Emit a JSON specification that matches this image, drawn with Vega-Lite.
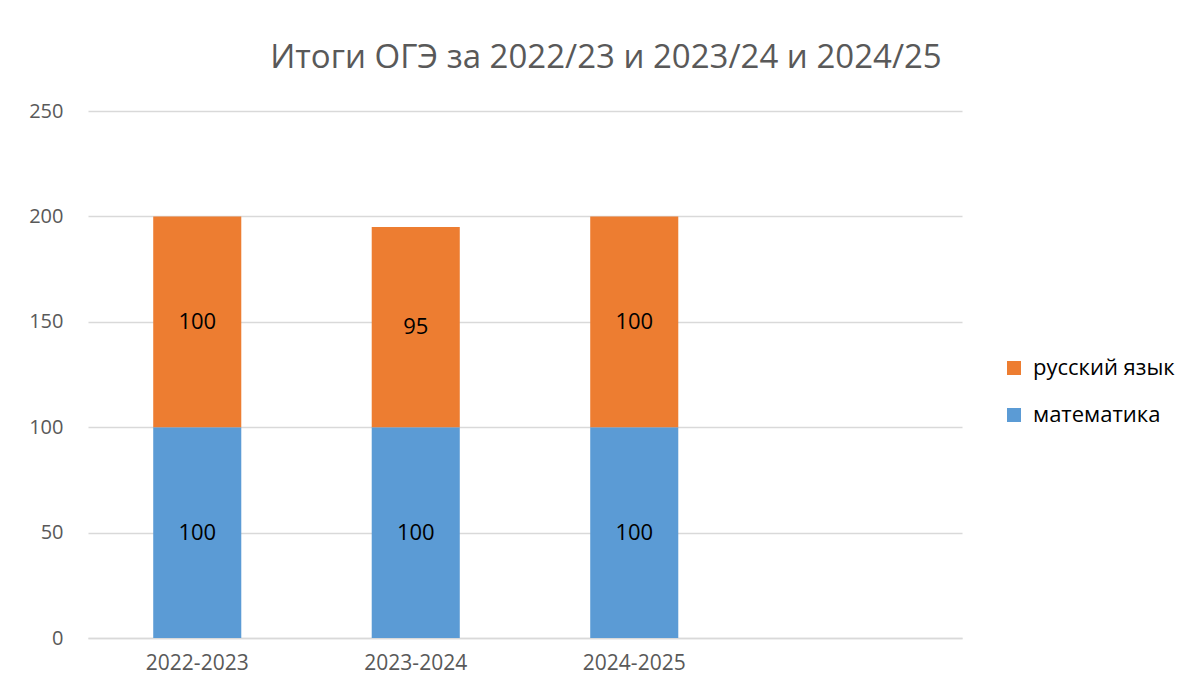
{
  "$schema": "https://vega.github.io/schema/vega-lite/v6.json",
  "width": 874,
  "height": 527,
  "autosize": {"type": "none"},
  "padding": {"left": 88, "top": 111, "right": 227, "bottom": 53},
  "background": "white",
  "title": {
    "text": "Итоги ОГЭ за 2022/23 и 2023/24 и 2024/25",
    "font": "Open Sans",
    "fontSize": 33,
    "fontWeight": "normal",
    "color": "#595959",
    "anchor": "middle",
    "frame": "group",
    "dx": 81,
    "baseline": "alphabetic",
    "offset": 0
  },
  "data": {
    "values": [
      {"year": "2022-2023", "subject": "математика", "score": 100},
      {"year": "2022-2023", "subject": "русский язык", "score": 100},
      {"year": "2023-2024", "subject": "математика", "score": 100},
      {"year": "2023-2024", "subject": "русский язык", "score": 95},
      {"year": "2024-2025", "subject": "математика", "score": 100},
      {"year": "2024-2025", "subject": "русский язык", "score": 100}
    ]
  },
  "transform": [
    {"stack": "score", "groupby": ["year"], "sort": [{"field": "subject", "order": "ascending"}], "as": ["s0", "s1"]}
  ],
  "encoding": {
    "x": {
      "field": "year",
      "type": "nominal",
      "scale": {"domain": ["2022-2023", "2023-2024", "2024-2025", " "], "paddingInner": 0.597, "paddingOuter": 0.2985},
      "axis": {
        "title": null,
        "labelAngle": 0,
        "labelFont": "Open Sans",
        "labelFontSize": 21,
        "labelColor": "#595959",
        "labelPadding": 14,
        "ticks": false,
        "domain": true,
        "domainColor": "#D9D9D9",
        "domainWidth": 1.5
      }
    }
  },
  "layer": [
    {
      "mark": {"type": "bar"},
      "encoding": {
        "y": {
          "field": "s1",
          "type": "quantitative",
          "scale": {"domain": [0, 250], "nice": false},
          "axis": {
            "title": null,
            "values": [0, 50, 100, 150, 200, 250],
            "grid": true,
            "gridColor": "#D9D9D9",
            "gridWidth": 1.3,
            "domain": false,
            "ticks": false,
            "labelFont": "Open Sans",
            "labelFontSize": 20,
            "labelColor": "#595959",
            "labelPadding": 25
          }
        },
        "y2": {"field": "s0"},
        "color": {
          "field": "subject",
          "type": "nominal",
          "scale": {"domain": ["русский язык", "математика"], "range": ["#ED7D31", "#5B9BD5"]},
          "legend": {
            "title": null,
            "orient": "none",
            "legendX": 915,
            "legendY": 246,
            "symbolType": "square",
            "symbolSize": 196,
            "symbolStrokeWidth": 0,
            "labelFont": "Open Sans",
            "labelFontSize": 22,
            "labelColor": "#000000",
            "labelOffset": 8,
            "rowPadding": 25
          }
        }
      }
    },
    {
      "transform": [
        {"fold": ["s0", "s1"], "as": ["edge", "pos"]}
      ],
      "mark": {"type": "text", "font": "Open Sans", "fontSize": 22, "color": "#000000", "baseline": "middle"},
      "encoding": {
        "y": {"field": "pos", "type": "quantitative", "aggregate": "mean"},
        "text": {"field": "score", "type": "quantitative", "aggregate": "max"},
        "detail": {"field": "subject"}
      }
    }
  ],
  "config": {
    "view": {"stroke": null}
  }
}
